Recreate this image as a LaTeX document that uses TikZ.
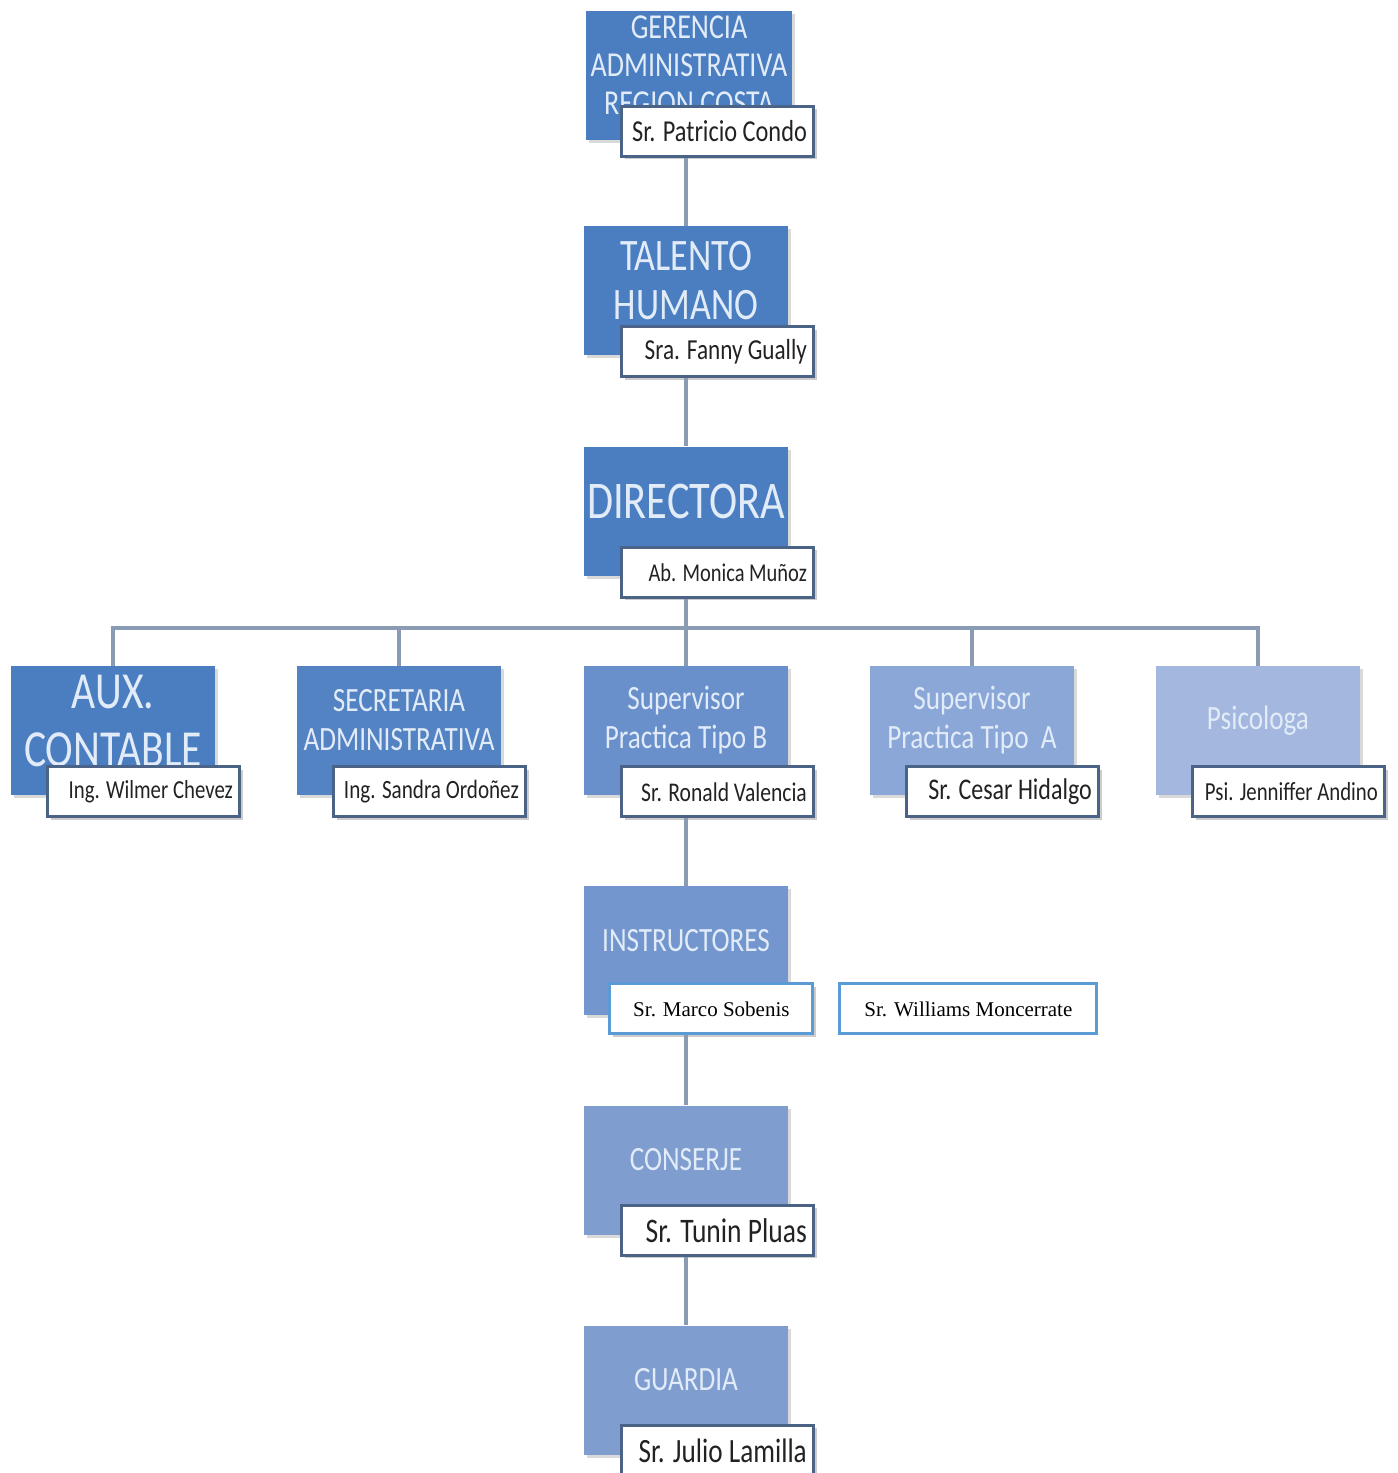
\documentclass[tikz,border=0pt]{standalone}
\usepackage{fontspec}
\setmainfont{Carlito}[FakeStretch=0.8]
\newfontfamily\serifname{Liberation Serif}
\usetikzlibrary{positioning, shadows, calc}
\definecolor{unitdark}{HTML}{4A7EC1}
\definecolor{unitsec}{HTML}{5483C3}
\definecolor{unitsupb}{HTML}{6A90CB}
\definecolor{unitsupa}{HTML}{8BA7D7}
\definecolor{unitpsi}{HTML}{A3B7DF}
\definecolor{unitins}{HTML}{7296CD}
\definecolor{unitlow}{HTML}{7F9DCF}
\definecolor{titletext}{HTML}{E2ECF8}
\definecolor{nameedge}{HTML}{4A6386}
\definecolor{nametext}{HTML}{222222}
\definecolor{instedge}{HTML}{5B9BD5}
\definecolor{linkcol}{HTML}{8A9BB4}

\newcommand{\ttlfont}[2]{\fontsize{#1}{#2}\selectfont}
% nombre alineado a la derecha, sin cortar
\newcommand{\nm}[1]{\hbox to 89pt{\hss #1}}

\begin{document}
\begin{tikzpicture}[x=0.5pt, y=-0.5pt,
    unit/.style={fill=#1, minimum width=102pt, minimum height=64.5pt, inner sep=0pt,
      drop shadow={shadow xshift=1.5pt, shadow yshift=-1.5pt, fill=black, opacity=.15}},
    title/.style={text=titletext, align=center, yshift=5pt},
    namebox/.style={draw=nameedge, line width=1.5pt, fill=white, text=nametext,
      inner xsep=3.5pt, inner ysep=0pt, minimum height=25pt,
      font=\ttlfont{#1}{#1},
      drop shadow={shadow xshift=1.5pt, shadow yshift=-1.5pt, fill=black, opacity=.2}},
    instbox/.style={draw=instedge, line width=1.5pt, fill=white, align=center,
      minimum height=25pt, inner ysep=0pt, font=\serifname\fontsize{10.5}{12}\selectfont},
    link/.style={draw=linkcol, line width=2pt}
  ]
  \useasboundingbox (0,0) rectangle (1398,1473);

  % gerencia
  \node[unit=unitdark, minimum width=103pt,
    label={[title, font=\ttlfont{17.5}{19}]center:{GERENCIA\\ADMINISTRATIVA\\REGION COSTA}}]
    (ger) at (689,75) {};
  \node[namebox=15.2, anchor=south east] (gerN) at ([shift={(23,18)}]ger.south east) {\nm{Sr. Patricio Condo}};

  % talento humano
  \node[unit=unitdark,
    label={[title, font=\ttlfont{22.5}{24.5}]center:{TALENTO\\HUMANO}}]
    (tal) at (686,290.5) {};
  \node[namebox=14.5, anchor=south east] (talN) at ([shift={(27,23)}]tal.south east) {\nm{Sra. Fanny Gually}};

  % directora
  \node[unit=unitdark,
    label={[title, font=\ttlfont{26.5}{28}]center:{DIRECTORA}}]
    (dir) at (686,511) {};
  \node[namebox=12.8, anchor=south east] (dirN) at ([shift={(27,23)}]dir.south east) {\nm{Ab. Monica Muñoz}};

  % segundo nivel
  \node[unit=unitdark,
    label={[title, font=\ttlfont{26}{29}]center:{AUX.\\CONTABLE}}]
    (aux) at (113,730.5) {};
  \node[namebox=13, anchor=south east] (auxN) at ([shift={(26,23)}]aux.south east) {\nm{Ing. Wilmer Chevez}};

  \node[unit=unitsec,
    label={[title, font=\ttlfont{17}{19.5}]center:{SECRETARIA\\ADMINISTRATIVA}}]
    (sec) at (399,730.5) {};
  \node[namebox=13.2, anchor=south east] (secN) at ([shift={(26,23)}]sec.south east) {\nm{Ing. Sandra Ordoñez}};

  \node[unit=unitsupb,
    label={[title, font=\ttlfont{17}{19.5}]center:{Supervisor\\Practica Tipo B}}]
    (supb) at (686,730.5) {};
  \node[namebox=13.5, anchor=south east] (supbN) at ([shift={(27,23)}]supb.south east) {\nm{Sr. Ronald Valencia}};

  \node[unit=unitsupa,
    label={[title, font=\ttlfont{17}{19.5}]center:{Supervisor\\Practica Tipo\ \ A}}]
    (supa) at (972,730.5) {};
  \node[namebox=15, anchor=south east] (supaN) at ([shift={(26,23)}]supa.south east) {\nm{Sr. Cesar Hidalgo}};

  \node[unit=unitpsi,
    label={[title, font=\ttlfont{17}{19.5}]center:{Psicologa}}]
    (psi) at (1258,730.5) {};
  \node[namebox=13, anchor=south east] (psiN) at ([shift={(26,23)}]psi.south east) {\nm{Psi. Jenniffer Andino}};

  % instructores
  \node[unit=unitins,
    label={[title, font=\ttlfont{17}{19}]center:{INSTRUCTORES}}]
    (ins) at (686,950.5) {};
  \node[instbox, minimum width=101.5pt, anchor=south east,
    drop shadow={shadow xshift=1.5pt, shadow yshift=-1.5pt, fill=black, opacity=.2}]
    (sob) at ([shift={(26,20)}]ins.south east) {Sr. Marco Sobenis};
  \node[instbox, minimum width=128.5pt, right=12pt of sob] (wil) {Sr. Williams Moncerrate};

  % conserje y guardia
  \node[unit=unitlow,
    label={[title, font=\ttlfont{17}{19}]center:{CONSERJE}}]
    (con) at (686,1170) {};
  \node[namebox=17.2, anchor=south east] (conN) at ([shift={(27,22)}]con.south east) {\nm{Sr. Tunin Pluas}};

  \node[unit=unitlow,
    label={[title, font=\ttlfont{17}{19}]center:{GUARDIA}}]
    (gua) at (686,1390) {};
  \node[namebox=17, anchor=south east] (guaN) at ([shift={(27,22)}]gua.south east) {\nm{Sr. Julio Lamilla}};

  % conectores
  \draw[link] (gerN.south -| tal.north) -- (tal.north);
  \draw[link] (talN.south -| dir.north) -- (dir.north);
  \coordinate (bus) at (686,628);
  \draw[link] (dirN.south -| dir.south) -- (bus);
  \draw[link, line cap=rect] (bus -| aux.north) -- (bus -| psi.north);
  \foreach \u in {aux,sec,supb,supa,psi}
    \draw[link] (bus -| \u.north) -- (\u.north);
  \draw[link] (supbN.south -| ins.north) -- (ins.north);
  \draw[link] (sob.south -| con.north) -- (con.north);
  \draw[link] (conN.south -| gua.north) -- (gua.north);
\end{tikzpicture}
\end{document}
